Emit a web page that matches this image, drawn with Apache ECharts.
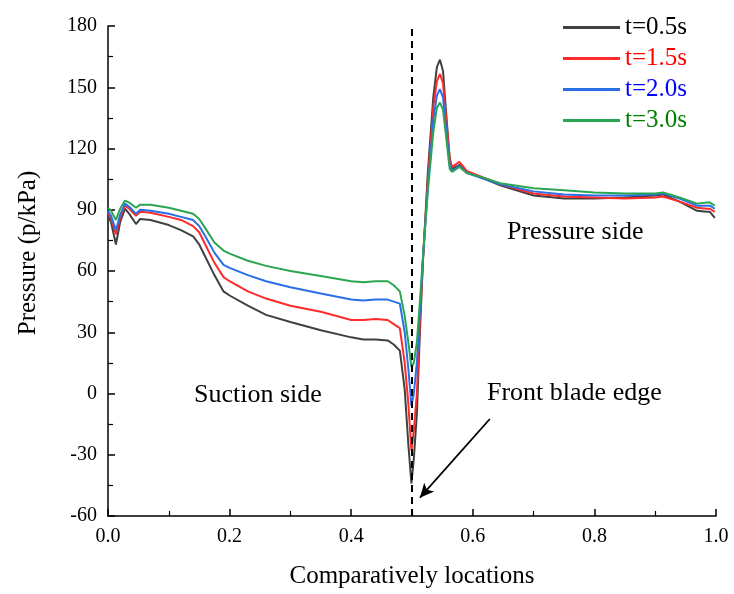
<!DOCTYPE html>
<html><head><meta charset="utf-8">
<script src="https://cdn.jsdelivr.net/npm/echarts@6/dist/echarts.min.js"></script>
<style>html,body{margin:0;padding:0;background:#fff}#c{width:734px;height:594px}</style>
</head><body><div id="c"></div>
<script>
const xs = [0,0.005,0.013,0.02,0.028,0.035,0.046,0.053,0.07,0.1,0.12,0.14,0.15,0.16,0.175,0.19,0.2,0.23,0.26,0.3,0.35,0.4,0.42,0.44,0.46,0.47,0.48,0.488,0.494,0.499,0.503,0.508,0.513,0.518,0.526,0.535,0.541,0.546,0.551,0.556,0.562,0.566,0.578,0.59,0.62,0.645,0.7,0.75,0.8,0.85,0.9,0.913,0.94,0.969,0.985,0.99,0.998];
const t05 = [87,84,73,84,90.5,88,83,85.5,85,82.5,80,77,73,67,58,50,48,43,38.5,35,31,27.5,26.5,26.5,26,24,21,2,-25,-44,-32,-10,30,65,108,145,160,163.5,158,138,115,110,112,108.5,105,102,97,95.5,95.5,96,97,97.5,94,89.5,89,89,86];
const t15 = [88.5,86,78,86,92,90.5,87,89,88.5,86.5,85,82,79,73,64,57,55,50,46.5,43,40,36,36,36.5,36,34,32,15,-5,-28,-18,0,35,65,104,140,153,156.5,152,135,115,111,113.5,109,105.5,102.5,98,96.5,96,95.5,96,96.5,94,91,90.5,90.5,89];
const t20 = [89.5,87,80,87.5,93,91.5,88,90,89.5,88,86.5,85,82,77,69,63,61.5,58,55,52,49,46,45.5,46,46,45,44,30,12,-6,0,15,40,66,101,134,146,149,145,130,112,109,111.5,108,105,102.5,99,97.5,97,97,97.5,98,95.5,92,92,92,90.5];
const t30 = [91,89.5,85,90.5,94.5,93.5,91,92.5,92.5,91,89.5,88,85.5,81,74,70,68.5,65,62.5,60,57.5,55,54.5,55,55,53,50,38,25,13,15,25,45,67,99,128,140,142.5,139,126,110,108.5,111,108,105.5,103,100.5,99.5,98.5,98,98,98.5,96,93,93.5,93.5,92];
const names = ['t=0.5s','t=1.5s','t=2.0s','t=3.0s'];
const lineColors = ['#404040','#ff2a2a','#2a6fe8','#2aa552'];
const textColors = ['#000000','#ff0000','#0000ff','#008000'];
const yTicks = [-60,180,30];

const serif = '"Liberation Serif","Times New Roman",serif';
const vals = [t05,t15,t20,t30];
const series = vals.map((v,i)=>({
  name: names[i], type:'line', showSymbol:false, symbol:'none',
  data: xs.map((x,j)=>[x,v[j]]),
  lineStyle:{color:lineColors[i], width:2}, itemStyle:{color:lineColors[i]},
  z: 3
}));
series[0].markLine = {
  silent:true, symbol:['none','none'], animation:false, label:{show:false},
  data:[
    [{coord:[0.5,-60],lineStyle:{type:[7,5],color:'#000',width:2}},{coord:[0.5,180]}],
  ]
};
series[1].markLine = {
  silent:true, symbol:['none','arrow'], symbolSize:[10,14], animation:false, label:{show:false},
  lineStyle:{color:'#000',width:1.8,type:'solid'},
  data:[[{coord:[0.628,-12.5]},{coord:[0.513,-51]}]]
};
const chart = echarts.init(document.getElementById('c'));
chart.setOption({
  animation:false,
  grid:{left:108,right:18,top:26,bottom:78},
  legend:{
    orient:'vertical', left:558, top:10, itemWidth:57, itemHeight:3, itemGap:6,
    icon:'rect',
    textStyle:{fontFamily:serif,fontSize:25},
    data: names.map((n,i)=>({name:n,textStyle:{color:textColors[i]}}))
  },
  xAxis:{type:'value',min:0,max:1,interval:0.2,
    name:'Comparatively locations',nameLocation:'middle',nameGap:48,
    nameTextStyle:{fontFamily:serif,fontSize:25,color:'#000'},
    axisLine:{onZero:false,lineStyle:{color:'#000',width:1.5}},
    axisTick:{inside:true,length:7,lineStyle:{color:'#000',width:1.5}},
    minorTick:{show:true,splitNumber:2,length:5,lineStyle:{color:'#000',width:1.2}},
    axisLabel:{fontFamily:serif,fontSize:20,color:'#000',margin:11,formatter:v=>v.toFixed(1)},
    splitLine:{show:false}},
  yAxis:{type:'value',min:yTicks[0],max:yTicks[1],interval:yTicks[2],
    axisLine:{show:true,onZero:false,lineStyle:{color:'#000',width:1.5}},
    axisTick:{show:true,inside:true,length:7,lineStyle:{color:'#000',width:1.5}},
    minorTick:{show:true,splitNumber:2,length:5,lineStyle:{color:'#000',width:1.2}},
    axisLabel:{fontFamily:serif,fontSize:20,color:'#000',margin:11},
    splitLine:{show:false}},
  graphic:[
    {type:'text',x:28,y:253,rotation:Math.PI/2,style:{text:'Pressure (p/kPa)',font:'25px '+serif,fill:'#000',align:'center',verticalAlign:'middle'}},
    {type:'text',x:507,y:232,style:{text:'Pressure side',font:'26px '+serif,fill:'#000',verticalAlign:'middle'}},
    {type:'text',x:194,y:395,style:{text:'Suction side',font:'26px '+serif,fill:'#000',verticalAlign:'middle'}},
    {type:'text',x:487,y:393,style:{text:'Front blade edge',font:'26px '+serif,fill:'#000',verticalAlign:'middle'}}
  ],
  series
});
</script></body></html>
